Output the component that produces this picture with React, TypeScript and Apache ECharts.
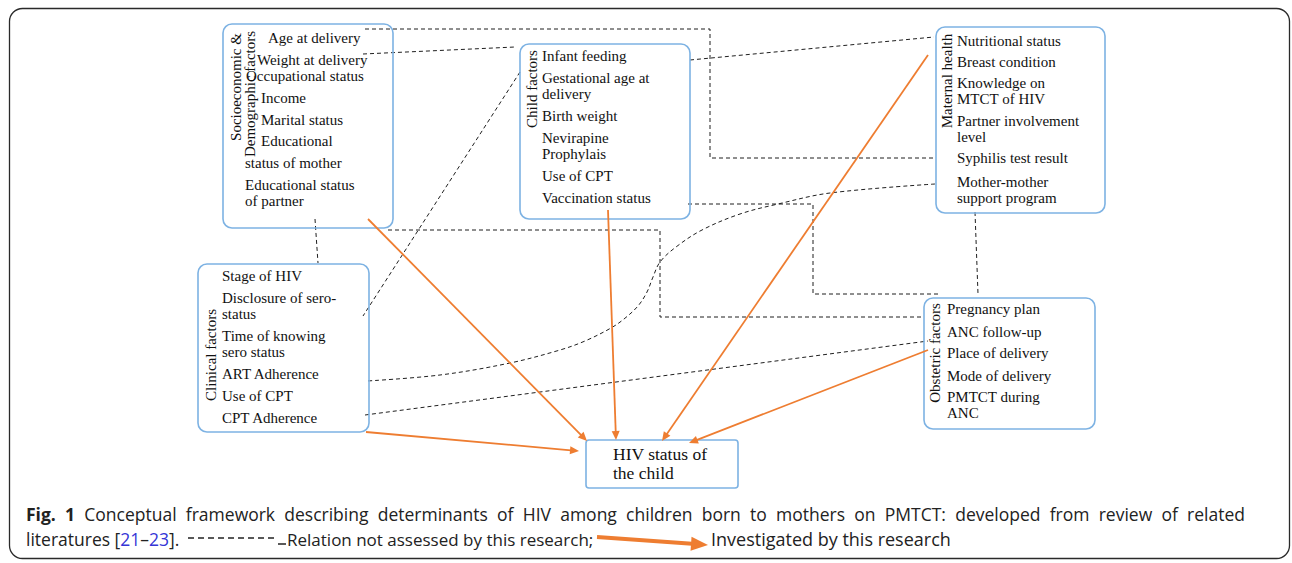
import React, { useEffect, useRef } from "react";
import * as echarts from "echarts";

const W = 1292;
const H = 563;
const SERIF = '"Liberation Serif", "Times New Roman", serif';
const SANS = '"Open Sans", "Noto Sans", sans-serif';
const BLUE = "#7db2e3";
const ORANGE = "#ee7d31";
const DASH = "#1f1f1f";
const TEXT = "#111111";
const CAP_COLOR = "#222222";
const ITEM_FONT = 15;
const CAP_FONT = 17.5;

// ---- Box contents ----
const socioTitle = ["Socioeconomic &", "Demographic factors"];
const socioItems = [
  "Age at delivery",
  "Weight at delivery",
  "Occupational status",
  "Income",
  "Marital status",
  "Educational",
  "status of mother",
  "Educational status",
  "of partner",
];
const childTitle = ["Child factors"];
const childItems = [
  "Infant feeding",
  "Gestational age at",
  "delivery",
  "Birth weight",
  "Nevirapine",
  "Prophylais",
  "Use of CPT",
  "Vaccination status",
];
const maternalTitle = ["Maternal health"];
const maternalItems = [
  "Nutritional status",
  "Breast condition",
  "Knowledge on",
  "MTCT of HIV",
  "Partner involvement",
  "level",
  "Syphilis test result",
  "Mother-mother",
  "support program",
];
const clinicalTitle = ["Clinical factors"];
const clinicalItems = [
  "Stage of HIV",
  "Disclosure of sero-",
  "status",
  "Time of knowing",
  "sero status",
  "ART Adherence",
  "Use of CPT",
  "CPT Adherence",
];
const obstetricTitle = ["Obstetric factors"];
const obstetricItems = [
  "Pregnancy plan",
  "ANC follow-up",
  "Place of delivery",
  "Mode of delivery",
  "PMTCT during",
  "ANC",
];
const outcomeLines = ["HIV status of", "the child"];

const captionBold = ["Fig.", "1"];
const captionLine1 =
  "Conceptual framework describing determinants of HIV among children born to mothers on PMTCT: developed from review of related";
const captionLine2 = "literatures [{l|21}–{l|23}].";
const legendDashed = "Relation not assessed by this research;";
const legendArrow = "Investigated by this research";

// ---- Layout ----
const boxLayout = [
  {
    title: socioTitle,
    items: socioItems,
    rect: [223, 24, 170, 204],
    titlePos: [[236, 87], [250, 94]],
    itemPos: [[268, 38], [257, 60], [246, 76], [261, 98], [261, 120], [261, 141], [245, 163], [245, 185], [245, 201]],
  },
  {
    title: childTitle,
    items: childItems,
    rect: [520, 44, 170, 175],
    titlePos: [[532, 89]],
    itemPos: [[542, 56], [542, 78], [542, 94], [542, 116], [542, 138], [542, 154], [542, 176], [542, 198]],
  },
  {
    title: maternalTitle,
    items: maternalItems,
    rect: [936, 27, 169, 186],
    titlePos: [[947, 81]],
    itemPos: [[957, 41], [957, 62], [957, 83], [957, 99], [957, 121], [957, 137], [957, 158], [957, 182], [957, 198]],
  },
  {
    title: clinicalTitle,
    items: clinicalItems,
    rect: [198, 264, 171, 168],
    titlePos: [[211, 355]],
    itemPos: [[222, 276], [222, 298], [222, 314], [222, 336], [222, 352], [222, 374], [222, 396], [222, 418]],
  },
  {
    title: obstetricTitle,
    items: obstetricItems,
    rect: [924, 298, 171, 131],
    titlePos: [[935, 353]],
    itemPos: [[947, 309], [947, 332], [947, 353], [947, 376], [947, 397], [947, 413]],
  },
];
const outcomeRect = [586, 440, 152, 48];
const outcomeTextPos = [[613, 454], [613, 473]];

// dashed (not assessed) relations
const dashedPaths = [
  [[365, 29], [710, 29], [710, 158], [935, 158]],
  [[363, 54], [515, 47]],
  [[520, 72], [363, 316]],
  [[690, 60], [934, 37]],
  [[315, 219], [318, 263]],
  [[388, 230], [660, 230], [660, 317], [922, 317]],
  [[688, 204], [813, 204], [813, 294], [940, 294]],
  [[975, 212], [978, 294]],
  [[365, 415], [928, 341]],
];
const dashedCurve = [
  [935, 184], [830, 193], [778, 204], [740, 214], [702, 230], [676, 247], [660, 262],
  [653, 277], [647, 292], [638, 306], [624, 319], [611, 328], [585, 341], [560, 350],
  [510, 363], [440, 375], [367, 381],
];
// investigated relations (orange arrows)
const arrowPaths = [
  [[368, 219], [587, 441]],
  [[366, 432], [579, 451]],
  [[608, 210], [616, 440]],
  [[928, 55], [662, 441]],
  [[928, 350], [689, 443]],
];

function head(from: number[], to: number[], len: number, half: number) {
  const dx = to[0] - from[0];
  const dy = to[1] - from[1];
  const L = Math.hypot(dx, dy);
  const ux = dx / L;
  const uy = dy / L;
  const bx = to[0] - ux * len;
  const by = to[1] - uy * len;
  return {
    base: [bx + ux * 1, by + uy * 1],
    pts: [
      [to[0], to[1]],
      [bx - uy * half, by + ux * half],
      [bx + uy * half, by - ux * half],
    ],
  };
}

function arrow(from: number[], to: number[], width: number, len: number, half: number) {
  const h = head(from, to, len, half);
  return [
    {
      type: "line",
      shape: { x1: from[0], y1: from[1], x2: h.base[0], y2: h.base[1] },
      style: { stroke: ORANGE, lineWidth: width },
    },
    { type: "polygon", shape: { points: h.pts }, style: { fill: ORANGE } },
  ];
}

function measure(ctx: CanvasRenderingContext2D | null, text: string, font: string) {
  if (!ctx) return text.length * 8.5;
  ctx.font = font;
  return ctx.measureText(text).width;
}

function justifiedLine(x0: number, x1: number, y: number) {
  const canvas = document.createElement("canvas");
  const ctx = canvas.getContext("2d");
  const regular = `${CAP_FONT}px ${SANS}`;
  const bold = `bold ${CAP_FONT}px ${SANS}`;
  const words = [
    ...captionBold.map((w) => ({ w, font: bold })),
    ...captionLine1.split(" ").map((w) => ({ w, font: regular })),
  ];
  const widths = words.map((o) => measure(ctx, o.w, o.font));
  const total = widths.reduce((a, b) => a + b, 0);
  const gap = (x1 - x0 - total) / (words.length - 1);
  const els: any[] = [];
  let x = x0;
  words.forEach((o, i) => {
    els.push({
      type: "text",
      x,
      y,
      style: { text: o.w, font: o.font, fill: CAP_COLOR, verticalAlign: "middle", align: "left" },
    });
    x += widths[i] + gap;
  });
  return els;
}

function buildElements() {
  const els: any[] = [];
  // outer frame
  els.push({
    type: "rect",
    shape: { x: 9.5, y: 8.5, width: 1280, height: 550, r: 13 },
    style: { fill: "none", stroke: "#2a2a2a", lineWidth: 1.3 },
  });
  // dashed relations
  dashedPaths.forEach((p) => {
    els.push({
      type: "polyline",
      shape: { points: p },
      style: { stroke: DASH, fill: "none", lineWidth: 1, lineDash: [4, 3] },
    });
  });
  els.push({
    type: "polyline",
    shape: { points: dashedCurve, smooth: 0.35 },
    style: { stroke: DASH, fill: "none", lineWidth: 1, lineDash: [4, 3] },
  });
  // boxes
  boxLayout.forEach((b) => {
    els.push({
      type: "rect",
      shape: { x: b.rect[0], y: b.rect[1], width: b.rect[2], height: b.rect[3], r: 9 },
      style: { fill: "none", stroke: BLUE, lineWidth: 1.6 },
    });
    b.title.forEach((t, i) => {
      els.push({
        type: "text",
        x: b.titlePos[i][0],
        y: b.titlePos[i][1],
        rotation: Math.PI / 2,
        style: {
          text: t,
          fill: TEXT,
          font: `${ITEM_FONT}px ${SERIF}`,
          align: "center",
          verticalAlign: "middle",
        },
      });
    });
    b.items.forEach((t, i) => {
      els.push({
        type: "text",
        x: b.itemPos[i][0],
        y: b.itemPos[i][1],
        style: {
          text: t,
          fill: TEXT,
          font: `${ITEM_FONT}px ${SERIF}`,
          align: "left",
          verticalAlign: "middle",
        },
      });
    });
  });
  // outcome box
  els.push({
    type: "rect",
    shape: { x: outcomeRect[0], y: outcomeRect[1], width: outcomeRect[2], height: outcomeRect[3], r: 3 },
    style: { fill: "none", stroke: BLUE, lineWidth: 1.6 },
  });
  outcomeLines.forEach((t, i) => {
    els.push({
      type: "text",
      x: outcomeTextPos[i][0],
      y: outcomeTextPos[i][1],
      style: { text: t, fill: TEXT, font: `17.5px ${SERIF}`, align: "left", verticalAlign: "middle" },
    });
  });
  // orange arrows
  arrowPaths.forEach((p) => {
    arrow(p[0], p[1], 1.8, 9, 4).forEach((e) => els.push(e));
  });
  // caption line 1 (justified)
  justifiedLine(26, 1245, 514).forEach((e) => els.push(e));
  // caption line 2
  els.push({
    type: "text",
    x: 26,
    y: 539,
    style: {
      text: captionLine2,
      font: `${CAP_FONT}px ${SANS}`,
      fill: CAP_COLOR,
      verticalAlign: "middle",
      rich: { l: { fontFamily: "Open Sans", fontSize: CAP_FONT, fill: "#3535d6" } },
    },
  });
  els.push({
    type: "line",
    shape: { x1: 188, y1: 538, x2: 276, y2: 538 },
    style: { stroke: CAP_COLOR, lineWidth: 1.5, lineDash: [6, 4] },
  });
  els.push({
    type: "line",
    shape: { x1: 278, y1: 544, x2: 286, y2: 544 },
    style: { stroke: CAP_COLOR, lineWidth: 1.5 },
  });
  els.push({
    type: "text",
    x: 287,
    y: 539,
    style: { text: legendDashed, font: `17px ${SANS}`, fill: CAP_COLOR, verticalAlign: "middle" },
  });
  arrow([597, 537], [708, 545], 4, 17, 7).forEach((e) => els.push(e));
  els.push({
    type: "text",
    x: 711,
    y: 539,
    style: { text: legendArrow, font: `18px ${SANS}`, fill: CAP_COLOR, verticalAlign: "middle" },
  });
  return els;
}

export default function App() {
  const ref = useRef<HTMLDivElement>(null);
  useEffect(() => {
    if (!ref.current) return;
    const chart = echarts.init(ref.current, undefined, { renderer: "svg" });
    chart.setOption({
      animation: false,
      backgroundColor: "#ffffff",
      graphic: { elements: buildElements() },
    });
    return () => chart.dispose();
  }, []);
  return (
    <div
      ref={ref}
      style={{ position: "absolute", left: 0, top: 0, width: W, height: H, background: "#fff" }}
    />
  );
}
